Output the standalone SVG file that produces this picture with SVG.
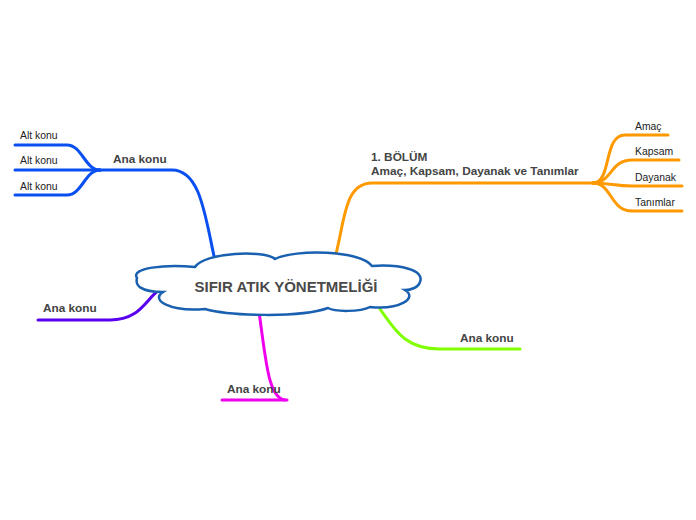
<svg xmlns="http://www.w3.org/2000/svg" width="696" height="520" viewBox="0 0 696 520">
<style>
.c{fill:none;stroke-width:3;stroke-linecap:round}
.main{font-family:"Liberation Sans",Arial,sans-serif;font-weight:bold;font-size:11.8px;fill:#444}
.sub{font-family:"Liberation Sans",Arial,sans-serif;font-size:10.4px;fill:#222}
.title{font-family:"Liberation Sans",Arial,sans-serif;font-weight:bold;font-size:15px;fill:#4a4a4a}
</style>
<rect width="696" height="520" fill="#fff"/>
<g id="connectors">
<path class="c" stroke="#0a50f0" d="M214,256 C205,215 200,170 172,170 L100,170"/>
<path class="c" stroke="#0a50f0" d="M100,170 C85,170 82,145 67,145 L15,145"/>
<path class="c" stroke="#0a50f0" d="M100,170 L15,170"/>
<path class="c" stroke="#0a50f0" d="M100,170 C85,170 82,195 67,195 L15,195"/>
<path class="c" stroke="#ff9900" d="M336,254 C345,218 345,183 372,183 L593,183"/>
<path class="c" stroke="#ff9900" d="M593,183 C612,183 603,135 625,135 L668,135"/>
<path class="c" stroke="#ff9900" d="M593,183 C612,183 610,160 632,160 L679,160"/>
<path class="c" stroke="#ff9900" d="M593,183 C610,183 615,186 632,186 L682,186"/>
<path class="c" stroke="#ff9900" d="M593,183 C612,183 610,211 632,211 L682,211"/>
<path class="c" stroke="#5a00f0" d="M160,289 C145,300 140,320 110,320 L38,320"/>
<path class="c" stroke="#ee00ee" d="M259,312 C266,360 268,398 285,400"/>
<path class="c" stroke="#ee00ee" d="M222,400 L287,400"/>
<path class="c" stroke="#80ff00" d="M380,309 C395,330 405,349 440,349 L520,349"/>
</g>
<g id="center">
<path d="M137,278 C130,268 165,264 195,267 C205,252 265,250 275,259 C295,249 360,250 372,266 C400,264 425,270 420,282 C418,288 410,290 405,290 C418,298 400,310 370,307 C360,312 335,312 328,308 C300,318 230,316 205,309 C170,312 150,300 163,292 C140,292 135,285 137,278 Z" fill="#fff" stroke="#1a60b0" stroke-width="2.5"/>
<text class="title" x="286" y="292" text-anchor="middle">SIFIR ATIK YÖNETMELİĞİ</text>
</g>
<g id="n-left-top"><text class="main" x="113" y="163">Ana konu</text></g>
<g id="n-alt1"><text class="sub" x="20" y="139">Alt konu</text></g>
<g id="n-alt2"><text class="sub" x="20" y="164">Alt konu</text></g>
<g id="n-alt3"><text class="sub" x="20" y="190">Alt konu</text></g>
<g id="n-bolum"><text class="main" x="371" y="161">1. BÖLÜM</text><text class="main" x="371" y="175">Amaç, Kapsam, Dayanak ve Tanımlar</text></g>
<g id="n-amac"><text class="sub" x="635" y="130">Amaç</text></g>
<g id="n-kapsam"><text class="sub" x="635" y="155">Kapsam</text></g>
<g id="n-dayanak"><text class="sub" x="635" y="181">Dayanak</text></g>
<g id="n-tanimlar"><text class="sub" x="635" y="206">Tanımlar</text></g>
<g id="n-left-bottom"><text class="main" x="43" y="312">Ana konu</text></g>
<g id="n-bottom"><text class="main" x="227" y="393">Ana konu</text></g>
<g id="n-right-bottom"><text class="main" x="460" y="342">Ana konu</text></g>
</svg>
